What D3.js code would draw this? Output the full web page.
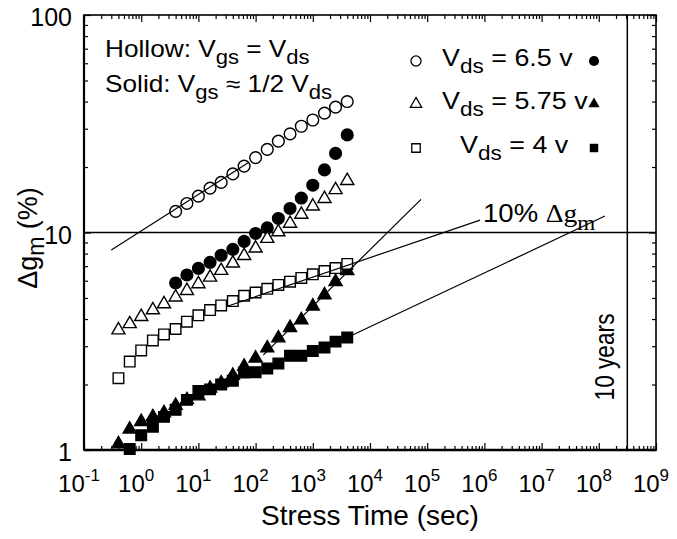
<!DOCTYPE html>
<html>
<head>
<meta charset="utf-8">
<script src="https://cdn.jsdelivr.net/npm/d3@7"></script>
<style>
  body { margin: 0; background: #fff; }
  svg { display: block; font-family: "Liberation Sans", Arial, Helvetica, sans-serif; }
  .tick line { stroke: #000; stroke-width: 1.2; }
</style>
</head>
<body>
<svg id="chart" width="677" height="539"></svg>
<script>
// ----- data ---------------------------------------------------------------
const timesSec = [0.4, 0.63, 1, 1.6, 2.5, 4, 6.3, 10, 16, 25, 40, 63, 100, 160, 250, 400, 630, 1000, 1600, 2500, 4000];

// Vds = 6.5 v (starts at t = 4 s)
const hollow65 = [12.5, 13.6, 14.7, 16.0, 17.0, 18.6, 20.2, 22.1, 24.1, 26.3, 28.4, 30.8, 32.9, 35.4, 37.7, 40.0];
const solid65 = [5.86, 6.38, 6.84, 7.29, 7.86, 8.37, 9.1, 9.9, 10.5, 11.6, 12.9, 14.4, 16.5, 19.4, 23.1, 28.1];
// Vds = 5.75 v (starts at t = 0.4 s)
const hollow575 = [3.56, 3.8, 4.1, 4.4, 4.69, 5.04, 5.4, 5.8, 6.22, 6.68, 7.22, 7.82, 8.46, 9.37, 10.05, 11.0, 12.1, 13.2, 14.3, 15.7, 17.3];
const solid575 = [1.066, 1.245, 1.35, 1.42, 1.48, 1.6, 1.7, 1.77, 1.92, 2.03, 2.2, 2.42, 2.64, 2.94, 3.27, 3.65, 3.96, 4.58, 5.16, 5.94, 6.67];
// Vds = 4 v
const hollow4 = [2.14, 2.55, 2.87, 3.19, 3.4, 3.6, 3.89, 4.16, 4.4, 4.62, 4.84, 5.12, 5.3, 5.51, 5.74, 5.94, 6.18, 6.42, 6.65, 6.86, 7.17];
const solid4 = [1.01, 1.17, 1.28, 1.42, 1.53, 1.7, 1.87, 1.9, 2.0, 2.08, 2.27, 2.28, 2.37, 2.5, 2.71, 2.71, 2.85, 2.96, 3.15, 3.29]; // from t = 0.63 s

// extrapolation lines [t0, t1], [v0, v1]
const fitLines = [
    { t: [0.3, 74], v: [8.3, 20.9] },        // hollow 6.5 v
    { t: [33, 8.4e5], v: [4.59, 11.4] },     // hollow 4 v
    { t: [136, 7.8e4], v: [2.73, 14.2] },    // solid 5.75 v
    { t: [2550, 1.28e8], v: [3.11, 11.9] }   // solid 4 v
];

const criterion = 10;          // 10% delta gm
const tenYears = 3.15e8;       // seconds
const xDecades = [-1, 0, 1, 2, 3, 4, 5, 6, 7, 8, 9];
const yTickLabels = ["1", "10", "100"];

// ----- scales ---------------------------------------------------------------
const svg = d3.select("#chart");
const L = 84, R = 656, T = 15, B = 450;
const x = d3.scaleLog().domain([0.1, 1e9]).range([L, R]);
const y = d3.scaleLog().domain([1, 100]).range([B, T]);

const xMajor = xDecades.map((k) => Math.pow(10, k));
const xMinor = d3.range(-1, 9).flatMap((k) => d3.range(2, 10).map((m) => m * Math.pow(10, k)));
const yMajor = [1, 10, 100];
const yMinor = d3.range(0, 2).flatMap((k) => d3.range(2, 10).map((m) => m * Math.pow(10, k)));

// ----- axes (ticks pointing inward on all four sides) -----------------------
function ticks(axis, values, size, transform) {
    const g = svg.append("g").attr("transform", transform)
        .call(axis.tickValues(values).tickSize(size).tickFormat(""));
    g.select(".domain").remove();
}
ticks(d3.axisBottom(x), xMajor, -7, `translate(0,${B})`);
ticks(d3.axisBottom(x), xMinor, -4, `translate(0,${B})`);
ticks(d3.axisTop(x), xMajor, -7, `translate(0,${T})`);
ticks(d3.axisTop(x), xMinor, -4, `translate(0,${T})`);
ticks(d3.axisLeft(y), yMajor, -7, `translate(${L},0)`);
ticks(d3.axisLeft(y), yMinor, -4, `translate(${L},0)`);
ticks(d3.axisRight(y), yMajor, -7, `translate(${R},0)`);
ticks(d3.axisRight(y), yMinor, -4, `translate(${R},0)`);

svg.append("rect").attr("x", L).attr("y", T).attr("width", R - L).attr("height", B - T)
    .attr("fill", "none").attr("stroke", "#000").attr("stroke-width", 1.6);
svg.append("line").attr("x1", L).attr("x2", R + 0.5).attr("y1", B).attr("y2", B)
    .attr("stroke", "#000").attr("stroke-width", 2.4);
svg.append("line").attr("x1", L).attr("x2", L).attr("y1", T).attr("y2", B)
    .attr("stroke", "#000").attr("stroke-width", 2.2);

// tick labels
const xl = svg.append("g").attr("font-size", 24);
xDecades.forEach((k) => {
    const t = xl.append("text").attr("x", x(Math.pow(10, k)) - 5).attr("y", 492).attr("text-anchor", "middle");
    t.append("tspan").text("10");
    t.append("tspan").attr("dy", -11).attr("font-size", 17).text(k);
});
svg.append("g").attr("font-size", 25).selectAll("text").data(yTickLabels).join("text")
    .attr("x", 72).attr("y", (d) => y(+d) + 11).attr("text-anchor", "end").text((d) => d);

// axis titles
svg.append("text").attr("x", (L + R) / 2).attr("y", 525).attr("text-anchor", "middle")
    .attr("font-size", 28).text("Stress Time (sec)");
const yt = svg.append("text").attr("transform", "translate(37,238) rotate(-90)")
    .attr("text-anchor", "middle").attr("font-size", 27);
yt.append("tspan").text("Δg");
yt.append("tspan").attr("dy", 7).attr("font-size", 23).text("m");
yt.append("tspan").attr("dy", -7).text(" (%)");

// ----- reference lines ------------------------------------------------------
svg.append("line").attr("x1", L).attr("x2", R).attr("y1", y(criterion)).attr("y2", y(criterion))
    .attr("stroke", "#000").attr("stroke-width", 1.5);
svg.append("line").attr("x1", x(tenYears)).attr("x2", x(tenYears)).attr("y1", T).attr("y2", B)
    .attr("stroke", "#000").attr("stroke-width", 1.5);
svg.append("text").attr("transform", `translate(614,357) rotate(-90) scale(0.84,1)`).attr("text-anchor", "middle")
    .attr("font-size", 27).text("10 years");

// ----- markers ----------------------------------------------------------------
const series = [
    { vals: hollow65, t0: 5, shape: d3.symbolCircle, size: 108, solid: false },
    { vals: solid65, t0: 5, shape: d3.symbolCircle, size: 108, solid: true },
    { vals: hollow575, t0: 0, shape: d3.symbolTriangle, size: 74, solid: false },
    { vals: solid575, t0: 0, shape: d3.symbolTriangle, size: 74, solid: true },
    { vals: hollow4, t0: 0, shape: d3.symbolSquare, size: 112, solid: false },
    { vals: solid4, t0: 1, shape: d3.symbolSquare, size: 112, solid: true }
];
const marks = svg.append("g");
series.forEach((s) => {
    marks.append("g").selectAll("path")
        .data(s.vals.map((v, i) => [timesSec[s.t0 + i], v]))
        .join("path")
        .attr("transform", (d) => `translate(${x(d[0])},${y(d[1])})`)
        .attr("d", d3.symbol(s.shape, s.size))
        .attr("fill", s.solid ? "#000" : "#fff")
        .attr("stroke", "#000")
        .attr("stroke-width", 1.4);
});

// fit lines drawn over the markers
svg.append("g").selectAll("line").data(fitLines).join("line")
    .attr("x1", (d) => x(d.t[0])).attr("y1", (d) => y(d.v[0]))
    .attr("x2", (d) => x(d.t[1])).attr("y2", (d) => y(d.v[1]))
    .attr("stroke", "#000").attr("stroke-width", 1.2);

// ----- annotations ------------------------------------------------------------
// text with subscripts, stretched horizontally by sx
function rich(parent, xPos, yPos, parts, size, sx) {
    const t = parent.append("text")
        .attr("transform", `translate(${xPos},${yPos}) scale(${sx},1)`)
        .attr("font-size", size);
    let shift = 0;
    parts.forEach((p) => {
        const target = p.sub ? Math.round(size * 0.3) : 0;
        const sp = t.append("tspan").attr("dy", target - shift).text(p.t);
        if (p.sub) sp.attr("font-size", size * 0.84);
        if (p.font) sp.attr("font-family", p.font);
        shift = target;
    });
    return t;
}
const notes = svg.append("g");
rich(notes, 105, 57, [{ t: "Hollow: V" }, { t: "gs", sub: true }, { t: " = V" }, { t: "ds", sub: true }], 23, 1.14);
rich(notes, 105, 92, [{ t: "Solid: V" }, { t: "gs", sub: true }, { t: " ≈ 1/2 V" }, { t: "ds", sub: true }], 23, 1.14);

const legendRows = [
    { label: " = 6.5 v", shape: d3.symbolCircle, size: 80, ty: 61, tx: 442 },
    { label: " = 5.75 v", shape: d3.symbolTriangle, size: 56, ty: 104, tx: 442 },
    { label: " = 4 v", shape: d3.symbolSquare, size: 72, ty: 148, tx: 460 }
];
legendRows.forEach((r) => {
    notes.append("path").attr("transform", `translate(416,${r.ty})`).attr("d", d3.symbol(r.shape, r.size))
        .attr("fill", "#fff").attr("stroke", "#000").attr("stroke-width", 1.3);
    notes.append("path").attr("transform", `translate(594,${r.ty})`).attr("d", d3.symbol(r.shape, r.size))
        .attr("fill", "#000");
    rich(notes, r.tx, r.ty + 5, [{ t: "V" }, { t: "ds", sub: true }, { t: r.label }], 24, 1.12);
});

const serif = "'Liberation Serif', 'Times New Roman', serif";
rich(notes, 483, 222, [{ t: "10% " }, { t: "Δg", font: serif }, { t: "m", sub: true, font: serif }], 26, 1.06);
</script>
</body>
</html>
